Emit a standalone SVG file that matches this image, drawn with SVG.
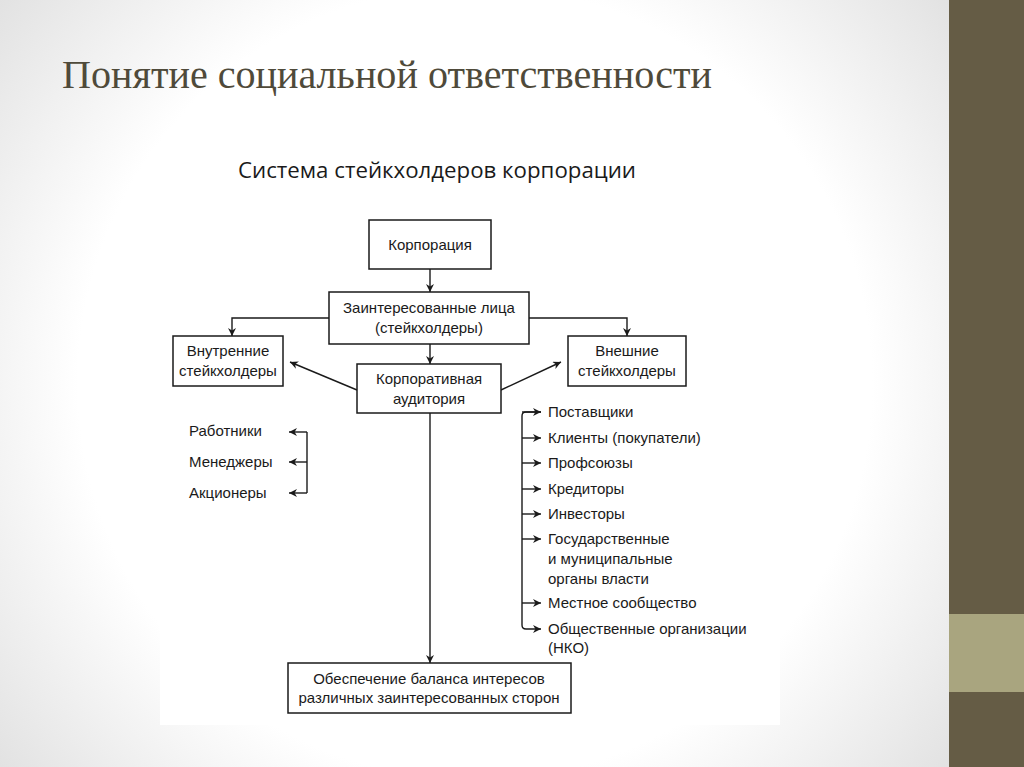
<svg xmlns="http://www.w3.org/2000/svg" width="1024" height="767" viewBox="0 0 1024 767">
<defs>
<radialGradient id="bg" cx="475" cy="383" r="640" gradientUnits="userSpaceOnUse">
<stop offset="0.62" stop-color="#ffffff"/>
<stop offset="1" stop-color="#dedede"/>
</radialGradient>
<marker id="ah" viewBox="0 0 10 10" refX="10" refY="5" markerWidth="8" markerHeight="8" markerUnits="userSpaceOnUse" orient="auto">
<path d="M0,0 L10,5 L0,10 L3,5 Z" fill="#1a1a1a"/>
</marker>
<style>
.box{fill:#fff;stroke:#1a1a1a;stroke-width:1.5}
.t{font-family:"Liberation Sans",Arial,sans-serif;font-size:15px;fill:#1a1a1a}
.c{text-anchor:middle}
.ln{fill:none;stroke:#1a1a1a;stroke-width:1.4}
</style>
</defs>
<rect width="1024" height="767" fill="url(#bg)"/>
<rect x="160" y="200" width="620" height="525" fill="#fff"/>
<rect x="949" y="0" width="75" height="767" fill="#655c45"/>
<rect x="949" y="614" width="75" height="78" fill="#a9a57f"/>
<text x="62" y="88" font-family="Liberation Serif,serif" font-size="39" fill="#4f4a3a" textLength="650" lengthAdjust="spacingAndGlyphs">Понятие социальной ответственности</text>
<text x="238" y="178" font-family="Open Sans,Liberation Sans,sans-serif" font-size="21" fill="#1a1a1a" textLength="398" lengthAdjust="spacingAndGlyphs">Система стейкхолдеров корпорации</text>

<g id="connectors">
<line class="ln" x1="430" y1="269" x2="430" y2="292" marker-end="url(#ah)"/>
<polyline class="ln" points="329,318 232,318 232,336" marker-end="url(#ah)"/>
<polyline class="ln" points="529,318 627,318 627,336" marker-end="url(#ah)"/>
<line class="ln" x1="430" y1="344" x2="430" y2="364" marker-end="url(#ah)"/>
<line class="ln" x1="357" y1="390" x2="290" y2="362" marker-end="url(#ah)"/>
<line class="ln" x1="501" y1="390" x2="561" y2="362" marker-end="url(#ah)"/>
<line class="ln" x1="430" y1="413" x2="430" y2="663" marker-end="url(#ah)"/>
<line class="ln" x1="307" y1="432" x2="307" y2="493"/>
<line class="ln" x1="307" y1="432" x2="289" y2="432" marker-end="url(#ah)"/>
<line class="ln" x1="307" y1="462" x2="289" y2="462" marker-end="url(#ah)"/>
<line class="ln" x1="307" y1="493" x2="289" y2="493" marker-end="url(#ah)"/>
<path class="ln" d="M541,412 L526,412 Q522,412 522,416 L522,625 Q522,629 526,629 L541,629" marker-end="url(#ah)"/>
<line class="ln" x1="522" y1="412" x2="541" y2="412" marker-end="url(#ah)"/>
<line class="ln" x1="522" y1="438" x2="541" y2="438" marker-end="url(#ah)"/>
<line class="ln" x1="522" y1="463" x2="541" y2="463" marker-end="url(#ah)"/>
<line class="ln" x1="522" y1="489" x2="541" y2="489" marker-end="url(#ah)"/>
<line class="ln" x1="522" y1="514" x2="541" y2="514" marker-end="url(#ah)"/>
<line class="ln" x1="522" y1="539" x2="541" y2="539" marker-end="url(#ah)"/>
<line class="ln" x1="522" y1="603" x2="541" y2="603" marker-end="url(#ah)"/>
</g>

<g id="n-corp"><rect class="box" x="369" y="220" width="122" height="49"/><text class="t c" x="430" y="250">Корпорация</text></g>
<g id="n-stake"><rect class="box" x="329" y="292" width="200" height="52"/><text class="t c" x="429" y="313">Заинтересованные лица</text><text class="t c" x="429" y="333">(стейкхолдеры)</text></g>
<g id="n-inner"><rect class="box" x="173" y="336" width="110" height="50"/><text class="t c" x="228" y="356">Внутренние</text><text class="t c" x="228" y="376">стейкхолдеры</text></g>
<g id="n-aud"><rect class="box" x="357" y="364" width="144" height="49"/><text class="t c" x="429" y="384">Корпоративная</text><text class="t c" x="429" y="404">аудитория</text></g>
<g id="n-outer"><rect class="box" x="568" y="336" width="118" height="50"/><text class="t c" x="627" y="356">Внешние</text><text class="t c" x="627" y="376">стейкхолдеры</text></g>
<g id="n-balance"><rect class="box" x="288" y="663" width="283" height="50"/><text class="t c" x="429" y="684">Обеспечение баланса интересов</text><text class="t c" x="429" y="703">различных заинтересованных сторон</text></g>

<g id="inner-list">
<text class="t" x="189" y="436">Работники</text>
<text class="t" x="189" y="467">Менеджеры</text>
<text class="t" x="189" y="498">Акционеры</text>
</g>
<g id="outer-list">
<text class="t" x="548" y="417">Поставщики</text>
<text class="t" x="548" y="443">Клиенты (покупатели)</text>
<text class="t" x="548" y="468">Профсоюзы</text>
<text class="t" x="548" y="494">Кредиторы</text>
<text class="t" x="548" y="519">Инвесторы</text>
<text class="t" x="548" y="544">Государственные</text>
<text class="t" x="548" y="564">и муниципальные</text>
<text class="t" x="548" y="584">органы власти</text>
<text class="t" x="548" y="608">Местное сообщество</text>
<text class="t" x="548" y="634">Общественные организации</text>
<text class="t" x="548" y="653">(НКО)</text>
</g>
</svg>
